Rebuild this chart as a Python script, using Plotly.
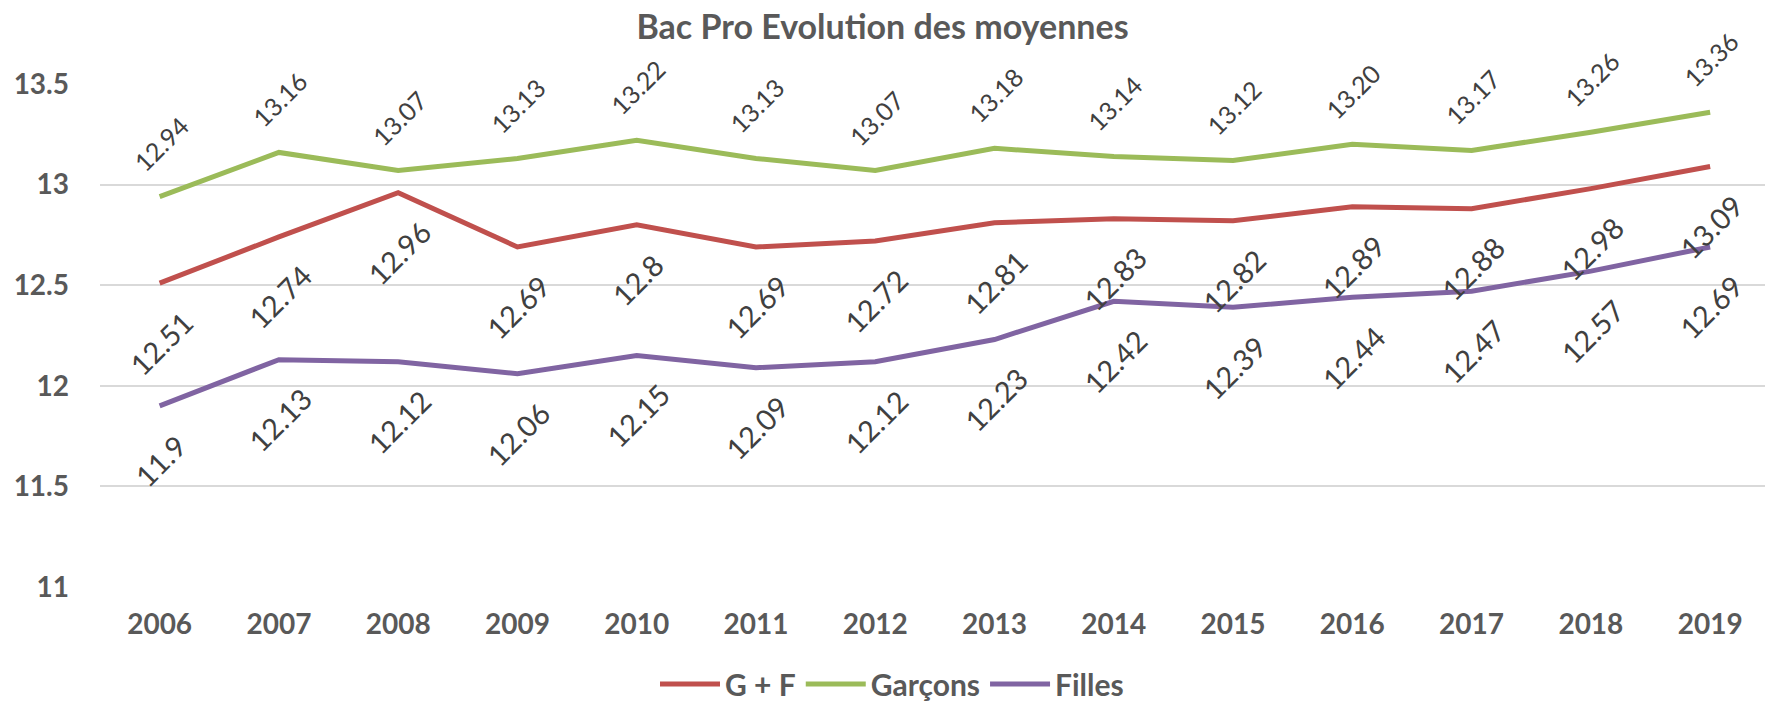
import plotly.graph_objects as go

years = ["2006", "2007", "2008", "2009", "2010", "2011", "2012",
         "2013", "2014", "2015", "2016", "2017", "2018", "2019"]
gf = [12.51, 12.74, 12.96, 12.69, 12.8, 12.69, 12.72, 12.81, 12.83, 12.82, 12.89, 12.88, 12.98, 13.09]
garcons = [12.94, 13.16, 13.07, 13.13, 13.22, 13.13, 13.07, 13.18, 13.14, 13.12, 13.20, 13.17, 13.26, 13.36]
filles = [11.9, 12.13, 12.12, 12.06, 12.15, 12.09, 12.12, 12.23, 12.42, 12.39, 12.44, 12.47, 12.57, 12.69]
y_ticks = [11, 11.5, 12, 12.5, 13, 13.5]

title = "Bac Pro Evolution des moyennes"
FONT = "Lato"
GRAY = "#595959"
LABEL = "#404040"

# name, values, colour, label position, label font size, label format
series = [
    ("G + F", gf, "#C0504D", "below", 29, "{:g}"),
    ("Garçons", garcons, "#9BBB59", "above", 25, "{:.2f}"),
    ("Filles", filles, "#8064A2", "below", 29, "{:g}"),
]

fig = go.Figure()
annotations = []
for name, vals, color, pos, fsize, fmt in series:
    fig.add_trace(go.Scatter(
        x=years, y=vals, mode="lines", name=name,
        line=dict(color=color, width=5),
    ))
    for i, v in enumerate(vals):
        txt = fmt.format(v)
        if pos == "below":
            shift = -(35 + 5 * len(txt))
        else:
            shift = 28 + 5 * len(txt)
        annotations.append(dict(
            x=i, y=v, xref="x", yref="y", text=txt, showarrow=False,
            textangle=-45, font=dict(family=FONT, size=fsize, color=LABEL),
            xanchor="center", yanchor="middle",
            yshift=shift, xshift=1,
        ))

fig.update_layout(
    width=1765, height=706,
    margin=dict(l=100, r=0, t=84, b=119),
    paper_bgcolor="white", plot_bgcolor="white",
    title=dict(text=title, x=0.5, xref="container", xanchor="center",
               y=1 - 27 / 706, yref="container", yanchor="middle",
               font=dict(family=FONT, size=34, color=GRAY, weight="bold")),
    xaxis=dict(type="category", range=[-0.5, 13.46], showgrid=False, zeroline=False,
               showline=False, ticks="", ticklabelstandoff=18,
               tickfont=dict(family=FONT, size=28, color=GRAY, weight="bold")),
    yaxis=dict(range=[11, 13.5], tickvals=y_ticks, ticktext=[f"{t:g}" for t in y_ticks],
               showgrid=True, gridcolor="#D9D9D9", gridwidth=2, zeroline=False,
               showline=False, ticks="", ticklabelstandoff=30,
               tickfont=dict(family=FONT, size=28, color=GRAY, weight="bold")),
    legend=dict(orientation="h", xref="container", yref="container",
                x=892 / 1765, xanchor="center", y=1 - 684 / 706, yanchor="middle",
                font=dict(family=FONT, size=30, color=GRAY, weight="bold"),
                itemwidth=60),
    annotations=annotations,
    showlegend=True,
)

fig.write_html("out.html", config={"displayModeBar": False},
               post_script="document.body.style.margin='0';")
